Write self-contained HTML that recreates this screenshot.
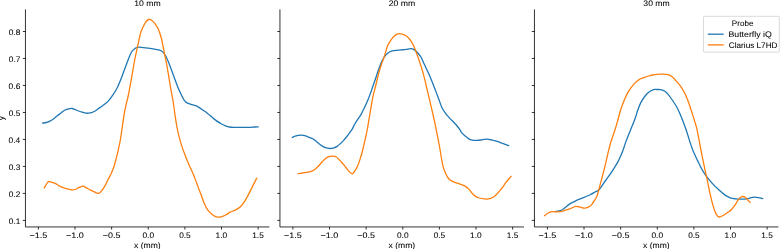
<!DOCTYPE html>
<html><head><meta charset="utf-8"><style>
html,body{margin:0;padding:0;background:#fff;}
body{width:780px;height:249px;overflow:hidden;}
svg{display:block;will-change:transform;}
text{font-family:"Liberation Sans",sans-serif;font-size:8.05px;stroke:#000;stroke-width:0.06px;text-rendering:geometricPrecision;}
</style></head><body>
<svg width="780" height="249" viewBox="0 0 780 249">
<clipPath id="c0"><rect x="25.45" y="9.4" width="244.0" height="217.54999999999998"/></clipPath>
<g clip-path="url(#c0)" fill="none" stroke-width="1.3" stroke-linejoin="round" stroke-linecap="square">
<path d="M42.60,123.10 C43.23,123.00 45.17,122.83 46.40,122.50 C47.63,122.17 48.78,121.73 50.00,121.10 C51.22,120.47 52.48,119.58 53.70,118.70 C54.92,117.82 56.10,116.73 57.30,115.80 C58.50,114.87 59.80,113.95 60.90,113.10 C62.00,112.25 62.90,111.32 63.90,110.70 C64.90,110.08 65.90,109.75 66.90,109.40 C67.90,109.05 69.00,108.75 69.90,108.60 C70.80,108.45 71.50,108.37 72.30,108.50 C73.10,108.63 73.68,108.98 74.70,109.40 C75.72,109.82 77.18,110.53 78.40,111.00 C79.62,111.47 80.80,111.85 82.00,112.20 C83.20,112.55 84.50,112.93 85.60,113.10 C86.70,113.27 87.60,113.27 88.60,113.20 C89.60,113.13 90.60,113.02 91.60,112.70 C92.60,112.38 93.50,111.95 94.60,111.30 C95.70,110.65 96.98,109.65 98.20,108.80 C99.42,107.95 100.68,107.10 101.90,106.20 C103.12,105.30 104.30,104.40 105.50,103.40 C106.70,102.40 107.78,101.73 109.10,100.20 C110.42,98.67 112.08,96.20 113.40,94.20 C114.72,92.20 115.78,90.60 117.00,88.20 C118.22,85.80 119.48,82.82 120.70,79.80 C121.92,76.78 123.10,73.32 124.30,70.10 C125.50,66.88 126.70,63.52 127.90,60.50 C129.10,57.48 130.30,54.02 131.50,52.00 C132.70,49.98 133.90,49.20 135.10,48.40 C136.30,47.60 137.28,47.32 138.70,47.20 C140.12,47.08 141.72,47.50 143.60,47.70 C145.48,47.90 148.00,48.13 150.00,48.40 C152.00,48.67 153.73,48.92 155.60,49.30 C157.47,49.68 159.55,49.67 161.20,50.70 C162.85,51.73 164.08,53.07 165.50,55.50 C166.92,57.93 168.30,61.80 169.70,65.30 C171.10,68.80 172.50,72.75 173.90,76.50 C175.30,80.25 176.68,84.38 178.10,87.80 C179.52,91.22 181.33,94.87 182.40,97.00 C183.47,99.13 183.72,99.62 184.50,100.60 C185.28,101.58 186.03,102.27 187.10,102.90 C188.17,103.53 189.52,103.93 190.90,104.40 C192.28,104.87 194.00,105.17 195.40,105.70 C196.80,106.23 198.02,106.85 199.30,107.60 C200.58,108.35 201.72,109.23 203.10,110.20 C204.48,111.17 206.10,112.22 207.60,113.40 C209.10,114.58 210.60,116.05 212.10,117.30 C213.60,118.55 215.10,119.83 216.60,120.90 C218.10,121.97 219.60,122.87 221.10,123.70 C222.60,124.53 224.20,125.35 225.60,125.90 C227.00,126.45 228.10,126.77 229.50,127.00 C230.90,127.23 231.97,127.25 234.00,127.30 C236.03,127.35 239.13,127.30 241.70,127.30 C244.27,127.30 247.25,127.35 249.40,127.30 C251.55,127.25 253.15,127.07 254.60,127.00 C256.05,126.93 257.52,126.92 258.10,126.90" stroke="#1f77b4"/>
<path d="M44.20,187.90 C44.55,187.33 45.60,185.55 46.30,184.50 C47.00,183.45 47.53,182.00 48.40,181.60 C49.27,181.20 50.28,181.75 51.50,182.10 C52.72,182.45 54.32,183.03 55.70,183.70 C57.08,184.37 58.42,185.40 59.80,186.10 C61.18,186.80 62.60,187.38 64.00,187.90 C65.40,188.42 66.88,188.88 68.20,189.20 C69.52,189.52 70.77,189.75 71.90,189.80 C73.03,189.85 73.88,189.85 75.00,189.50 C76.12,189.15 77.38,188.27 78.60,187.70 C79.82,187.13 81.42,186.32 82.30,186.10 C83.18,185.88 82.95,185.97 83.90,186.40 C84.85,186.83 86.62,187.97 88.00,188.70 C89.38,189.43 90.88,190.15 92.20,190.80 C93.52,191.45 94.85,192.17 95.90,192.60 C96.95,193.03 97.55,193.70 98.50,193.40 C99.45,193.10 100.55,192.02 101.60,190.80 C102.65,189.58 103.75,187.93 104.80,186.10 C105.85,184.27 106.83,181.90 107.90,179.80 C108.97,177.70 110.18,175.72 111.20,173.50 C112.22,171.28 113.12,169.20 114.00,166.50 C114.88,163.80 115.70,160.43 116.50,157.30 C117.30,154.17 118.10,150.92 118.80,147.70 C119.50,144.48 120.19,140.95 120.70,138.00 C121.21,135.05 121.52,132.33 121.85,130.00 C122.18,127.67 122.33,126.62 122.70,124.00 C123.08,121.38 123.53,117.53 124.10,114.30 C124.67,111.07 125.38,107.82 126.10,104.60 C126.82,101.38 127.47,99.62 128.40,95.00 C129.33,90.38 130.65,82.73 131.70,76.90 C132.75,71.07 133.77,64.90 134.70,60.00 C135.63,55.10 136.68,50.33 137.30,47.50 C137.92,44.67 137.87,45.37 138.40,43.00 C138.93,40.63 139.75,35.92 140.50,33.30 C141.25,30.68 142.00,29.22 142.90,27.30 C143.80,25.38 144.93,23.10 145.90,21.80 C146.87,20.50 147.75,19.77 148.70,19.50 C149.65,19.23 150.57,19.52 151.60,20.20 C152.63,20.88 153.73,22.02 154.90,23.60 C156.07,25.18 157.52,27.22 158.60,29.70 C159.68,32.18 160.63,35.62 161.40,38.50 C162.17,41.38 162.57,43.92 163.20,47.00 C163.83,50.08 164.60,54.00 165.20,57.00 C165.80,60.00 166.28,62.22 166.80,65.00 C167.32,67.78 167.58,69.43 168.30,73.70 C169.02,77.97 170.28,85.88 171.10,90.60 C171.92,95.32 172.57,98.10 173.20,102.00 C173.83,105.90 174.33,110.17 174.90,114.00 C175.47,117.83 175.97,121.48 176.60,125.00 C177.23,128.52 177.88,131.75 178.70,135.10 C179.52,138.45 180.43,141.75 181.50,145.10 C182.57,148.45 183.80,151.80 185.10,155.20 C186.40,158.60 187.92,162.28 189.30,165.50 C190.68,168.72 192.12,171.40 193.40,174.50 C194.68,177.60 195.78,180.90 197.00,184.10 C198.22,187.30 199.48,190.48 200.70,193.70 C201.92,196.92 203.10,200.67 204.30,203.40 C205.50,206.13 206.50,208.18 207.90,210.10 C209.30,212.02 211.10,213.73 212.70,214.90 C214.30,216.07 215.95,216.82 217.50,217.10 C219.05,217.38 220.57,216.98 222.00,216.60 C223.43,216.22 224.75,215.53 226.10,214.80 C227.45,214.07 228.60,212.97 230.10,212.20 C231.60,211.43 233.43,211.05 235.10,210.20 C236.77,209.35 238.60,208.45 240.10,207.10 C241.60,205.75 242.75,204.10 244.10,202.10 C245.45,200.10 246.85,197.60 248.20,195.10 C249.55,192.60 250.80,189.88 252.20,187.10 C253.60,184.32 255.87,179.85 256.60,178.40" stroke="#ff7f0e"/>
</g>
<g stroke="#000" stroke-width="0.8" fill="none" stroke-linecap="butt">
<path d="M25.45,9.4 V226.95 H269.45"/>
<path d="M22.81,220.40 H25.45"/>
<path d="M22.81,193.41 H25.45"/>
<path d="M22.81,166.43 H25.45"/>
<path d="M22.81,139.44 H25.45"/>
<path d="M22.81,112.46 H25.45"/>
<path d="M22.81,85.47 H25.45"/>
<path d="M22.81,58.48 H25.45"/>
<path d="M22.81,31.50 H25.45"/>
<path d="M38.40,226.95 V229.59"/>
<path d="M75.03,226.95 V229.59"/>
<path d="M111.65,226.95 V229.59"/>
<path d="M148.28,226.95 V229.59"/>
<path d="M184.90,226.95 V229.59"/>
<path d="M221.53,226.95 V229.59"/>
<path d="M258.15,226.95 V229.59"/>
</g>
<text transform="translate(29.52,237.80) scale(1.1133,1)" fill="#000">−1.5</text>
<text transform="translate(66.06,237.80) scale(1.1220,1)" fill="#000">−1.0</text>
<text transform="translate(102.77,237.80) scale(1.1133,1)" fill="#000">−0.5</text>
<text transform="translate(142.44,237.80) scale(1.0423,1)" fill="#000">0.0</text>
<text transform="translate(179.15,237.80) scale(1.0295,1)" fill="#000">0.5</text>
<text transform="translate(215.55,237.80) scale(1.0403,1)" fill="#000">1.0</text>
<text transform="translate(252.26,237.80) scale(1.0272,1)" fill="#000">1.5</text>
<text transform="translate(8.81,223.60) scale(1.0314,1)" fill="#000">0.1</text>
<text transform="translate(8.87,196.61) scale(1.0270,1)" fill="#000">0.2</text>
<text transform="translate(8.72,169.63) scale(1.0363,1)" fill="#000">0.3</text>
<text transform="translate(8.54,142.64) scale(1.0418,1)" fill="#000">0.4</text>
<text transform="translate(8.78,115.66) scale(1.0295,1)" fill="#000">0.5</text>
<text transform="translate(8.59,88.67) scale(1.0486,1)" fill="#000">0.6</text>
<text transform="translate(8.76,61.68) scale(1.0375,1)" fill="#000">0.7</text>
<text transform="translate(8.63,34.70) scale(1.0444,1)" fill="#000">0.8</text>
<text transform="translate(3.90,118.17) rotate(-90) translate(-2.03,0) scale(1.0072,1)" fill="#000">y</text>
<text transform="translate(134.05,248.20) scale(1.0636,1)" fill="#000">x (mm)</text>
<text transform="translate(134.17,5.80) scale(1.0762,1)" fill="#000">10 mm</text>
<clipPath id="c1"><rect x="279.95" y="9.4" width="244.0" height="217.54999999999998"/></clipPath>
<g clip-path="url(#c1)" fill="none" stroke-width="1.3" stroke-linejoin="round" stroke-linecap="square">
<path d="M292.40,137.30 C292.88,137.12 294.30,136.52 295.30,136.20 C296.30,135.88 297.35,135.57 298.40,135.40 C299.45,135.23 300.55,135.17 301.60,135.20 C302.65,135.23 303.67,135.33 304.70,135.60 C305.73,135.87 306.75,136.38 307.80,136.80 C308.85,137.22 309.95,137.63 311.00,138.10 C312.05,138.57 313.07,138.92 314.10,139.60 C315.13,140.28 316.15,141.33 317.20,142.20 C318.25,143.07 319.35,144.02 320.40,144.80 C321.45,145.58 322.47,146.38 323.50,146.90 C324.53,147.42 325.47,147.63 326.60,147.90 C327.73,148.17 329.07,148.50 330.30,148.50 C331.53,148.50 332.87,148.25 334.00,147.90 C335.13,147.55 336.07,147.08 337.10,146.40 C338.13,145.72 339.15,144.77 340.20,143.80 C341.25,142.83 342.35,141.73 343.40,140.60 C344.45,139.47 345.47,138.30 346.50,137.00 C347.53,135.70 348.65,134.12 349.60,132.80 C350.55,131.48 351.23,130.73 352.20,129.10 C353.17,127.47 353.97,125.38 355.40,123.00 C356.83,120.62 359.28,117.37 360.80,114.80 C362.32,112.23 363.28,110.15 364.50,107.60 C365.72,105.05 367.05,102.07 368.10,99.50 C369.15,96.93 370.12,94.08 370.80,92.20 C371.48,90.32 371.40,90.48 372.20,88.20 C373.00,85.92 374.57,81.53 375.60,78.50 C376.63,75.47 377.33,72.90 378.40,70.00 C379.47,67.10 380.78,63.58 382.00,61.10 C383.22,58.62 384.38,56.67 385.70,55.10 C387.02,53.53 388.50,52.45 389.90,51.70 C391.30,50.95 392.20,50.90 394.10,50.60 C396.00,50.30 399.30,50.10 401.30,49.90 C403.30,49.70 404.48,49.60 406.10,49.40 C407.72,49.20 409.68,48.67 411.00,48.70 C412.32,48.73 412.90,48.93 414.00,49.60 C415.10,50.27 416.40,51.38 417.60,52.70 C418.80,54.02 420.10,55.60 421.20,57.50 C422.30,59.40 422.88,61.25 424.20,64.10 C425.52,66.95 427.62,71.23 429.10,74.60 C430.58,77.97 431.77,80.95 433.10,84.30 C434.43,87.65 436.10,92.08 437.10,94.70 C438.10,97.32 438.27,97.78 439.10,100.00 C439.93,102.22 440.93,105.65 442.10,108.00 C443.27,110.35 444.83,112.42 446.10,114.10 C447.37,115.78 448.03,116.32 449.70,118.10 C451.37,119.88 454.37,122.82 456.10,124.80 C457.83,126.78 459.18,128.70 460.10,130.00 C461.02,131.30 460.82,131.65 461.60,132.60 C462.38,133.55 463.67,134.70 464.80,135.70 C465.93,136.70 467.18,137.87 468.40,138.60 C469.62,139.33 470.70,139.80 472.10,140.10 C473.50,140.40 475.32,140.42 476.80,140.40 C478.28,140.38 479.78,140.17 481.00,140.00 C482.22,139.83 483.07,139.53 484.10,139.40 C485.13,139.27 485.98,139.12 487.20,139.20 C488.42,139.28 490.00,139.63 491.40,139.90 C492.80,140.17 494.20,140.40 495.60,140.80 C497.00,141.20 498.42,141.78 499.80,142.30 C501.18,142.82 502.43,143.33 503.90,143.90 C505.37,144.47 507.82,145.40 508.60,145.70" stroke="#1f77b4"/>
<path d="M298.10,173.60 C298.75,173.52 300.60,173.32 302.00,173.10 C303.40,172.88 305.10,172.53 306.50,172.30 C307.90,172.07 309.08,172.13 310.40,171.70 C311.72,171.27 313.08,170.60 314.40,169.70 C315.72,168.80 317.00,167.62 318.30,166.30 C319.60,164.98 320.98,163.12 322.20,161.80 C323.42,160.48 324.47,159.25 325.60,158.40 C326.73,157.55 327.78,157.07 329.00,156.70 C330.22,156.33 331.68,156.15 332.90,156.20 C334.12,156.25 335.27,156.43 336.30,157.00 C337.33,157.57 338.07,158.55 339.10,159.60 C340.13,160.65 341.37,162.00 342.50,163.30 C343.63,164.60 344.78,166.02 345.90,167.40 C347.02,168.78 348.12,170.53 349.20,171.60 C350.28,172.67 351.45,173.93 352.40,173.80 C353.35,173.67 354.02,172.15 354.90,170.80 C355.78,169.45 356.77,167.85 357.70,165.70 C358.63,163.55 359.67,160.52 360.50,157.90 C361.33,155.28 361.95,152.98 362.70,150.00 C363.45,147.02 364.25,143.33 365.00,140.00 C365.75,136.67 366.53,133.43 367.20,130.00 C367.87,126.57 368.40,122.98 369.00,119.40 C369.60,115.82 370.12,112.43 370.80,108.50 C371.48,104.57 372.32,99.47 373.10,95.80 C373.88,92.13 374.72,89.63 375.50,86.50 C376.28,83.37 377.12,79.75 377.80,77.00 C378.48,74.25 378.90,72.35 379.60,70.00 C380.30,67.65 381.18,65.28 382.00,62.90 C382.82,60.52 383.58,58.52 384.50,55.70 C385.42,52.88 386.65,48.25 387.50,46.00 C388.35,43.75 388.95,43.32 389.60,42.20 C390.25,41.08 390.57,40.38 391.40,39.30 C392.23,38.22 393.65,36.57 394.60,35.70 C395.55,34.83 396.25,34.45 397.10,34.10 C397.95,33.75 398.83,33.60 399.70,33.60 C400.57,33.60 401.43,33.85 402.30,34.10 C403.17,34.35 404.05,34.67 404.90,35.10 C405.75,35.53 406.52,35.88 407.40,36.70 C408.28,37.52 409.33,38.82 410.20,40.00 C411.07,41.18 411.97,42.70 412.60,43.80 C413.23,44.90 413.27,44.82 414.00,46.60 C414.73,48.38 415.92,51.52 417.00,54.50 C418.08,57.48 419.42,61.15 420.50,64.50 C421.58,67.85 422.60,71.30 423.50,74.60 C424.40,77.90 425.10,80.95 425.90,84.30 C426.70,87.65 427.68,92.08 428.30,94.70 C428.92,97.32 428.92,97.12 429.60,100.00 C430.28,102.88 431.48,107.98 432.40,112.00 C433.32,116.02 434.22,119.92 435.10,124.10 C435.98,128.28 436.87,132.78 437.70,137.10 C438.53,141.42 439.47,146.43 440.10,150.00 C440.73,153.57 441.02,155.82 441.50,158.50 C441.98,161.18 442.42,163.83 443.00,166.10 C443.58,168.37 444.23,170.27 445.00,172.10 C445.77,173.93 446.75,175.77 447.60,177.10 C448.45,178.43 449.02,179.27 450.10,180.10 C451.18,180.93 452.43,181.43 454.10,182.10 C455.77,182.77 458.27,183.43 460.10,184.10 C461.93,184.77 463.65,185.27 465.10,186.10 C466.55,186.93 467.72,188.02 468.80,189.10 C469.88,190.18 470.55,191.43 471.60,192.60 C472.65,193.77 473.80,195.20 475.10,196.10 C476.40,197.00 477.87,197.53 479.40,198.00 C480.93,198.47 482.78,198.75 484.30,198.90 C485.82,199.05 487.10,199.13 488.50,198.90 C489.90,198.67 491.42,198.20 492.70,197.50 C493.98,196.80 494.90,195.98 496.20,194.70 C497.50,193.42 499.08,191.55 500.50,189.80 C501.92,188.05 503.42,185.92 504.70,184.20 C505.98,182.48 507.15,180.80 508.20,179.50 C509.25,178.20 510.53,176.92 511.00,176.40" stroke="#ff7f0e"/>
</g>
<g stroke="#000" stroke-width="0.8" fill="none" stroke-linecap="butt">
<path d="M279.95,9.4 V226.95 H523.95"/>
<path d="M277.31,220.40 H279.95"/>
<path d="M277.31,193.41 H279.95"/>
<path d="M277.31,166.43 H279.95"/>
<path d="M277.31,139.44 H279.95"/>
<path d="M277.31,112.46 H279.95"/>
<path d="M277.31,85.47 H279.95"/>
<path d="M277.31,58.48 H279.95"/>
<path d="M277.31,31.50 H279.95"/>
<path d="M292.90,226.95 V229.59"/>
<path d="M329.52,226.95 V229.59"/>
<path d="M366.15,226.95 V229.59"/>
<path d="M402.77,226.95 V229.59"/>
<path d="M439.40,226.95 V229.59"/>
<path d="M476.02,226.95 V229.59"/>
<path d="M512.65,226.95 V229.59"/>
</g>
<text transform="translate(284.02,237.80) scale(1.1133,1)" fill="#000">−1.5</text>
<text transform="translate(320.56,237.80) scale(1.1220,1)" fill="#000">−1.0</text>
<text transform="translate(357.27,237.80) scale(1.1133,1)" fill="#000">−0.5</text>
<text transform="translate(396.94,237.80) scale(1.0423,1)" fill="#000">0.0</text>
<text transform="translate(433.65,237.80) scale(1.0295,1)" fill="#000">0.5</text>
<text transform="translate(470.05,237.80) scale(1.0403,1)" fill="#000">1.0</text>
<text transform="translate(506.76,237.80) scale(1.0272,1)" fill="#000">1.5</text>
<text transform="translate(388.55,248.20) scale(1.0636,1)" fill="#000">x (mm)</text>
<text transform="translate(388.75,5.80) scale(1.0784,1)" fill="#000">20 mm</text>
<clipPath id="c2"><rect x="534.45" y="9.4" width="244.0" height="217.54999999999998"/></clipPath>
<g clip-path="url(#c2)" fill="none" stroke-width="1.3" stroke-linejoin="round" stroke-linecap="square">
<path d="M555.90,211.40 C556.43,211.30 558.00,211.08 559.10,210.80 C560.20,210.52 561.37,210.35 562.50,209.70 C563.63,209.05 564.78,207.78 565.90,206.90 C567.02,206.02 568.08,205.15 569.20,204.40 C570.32,203.65 571.28,203.12 572.60,202.40 C573.92,201.68 575.60,200.77 577.10,200.10 C578.60,199.43 580.10,199.00 581.60,198.40 C583.10,197.80 584.60,197.15 586.10,196.50 C587.60,195.85 589.10,195.25 590.60,194.50 C592.10,193.75 593.72,192.78 595.10,192.00 C596.48,191.22 597.22,191.63 598.90,189.80 C600.58,187.97 603.12,183.92 605.20,181.00 C607.28,178.08 609.33,175.40 611.40,172.30 C613.47,169.20 616.13,164.95 617.60,162.40 C619.07,159.85 619.28,159.07 620.20,157.00 C621.12,154.93 622.18,152.48 623.10,150.00 C624.02,147.52 624.73,144.75 625.70,142.10 C626.67,139.45 627.83,136.77 628.90,134.10 C629.97,131.43 631.03,128.78 632.10,126.10 C633.17,123.42 634.35,120.68 635.30,118.00 C636.25,115.32 636.90,112.52 637.80,110.00 C638.70,107.48 639.55,105.15 640.70,102.90 C641.85,100.65 643.37,98.28 644.70,96.50 C646.03,94.72 647.22,93.35 648.70,92.20 C650.18,91.05 652.30,90.05 653.60,89.60 C654.90,89.15 655.30,89.48 656.50,89.50 C657.70,89.52 659.40,89.40 660.80,89.70 C662.20,90.00 663.55,90.37 664.90,91.30 C666.25,92.23 667.62,93.77 668.90,95.30 C670.18,96.83 671.32,98.58 672.60,100.50 C673.88,102.42 675.43,104.73 676.60,106.80 C677.77,108.87 678.55,110.55 679.60,112.90 C680.65,115.25 681.82,118.10 682.90,120.90 C683.98,123.70 685.18,127.02 686.10,129.70 C687.02,132.38 687.65,134.62 688.40,137.00 C689.15,139.38 689.73,141.48 690.60,144.00 C691.47,146.52 692.42,149.28 693.60,152.10 C694.78,154.92 696.35,158.10 697.70,160.90 C699.05,163.70 700.37,166.48 701.70,168.90 C703.03,171.32 703.90,172.95 705.70,175.40 C707.50,177.85 710.32,181.20 712.50,183.60 C714.68,186.00 716.70,187.88 718.80,189.80 C720.90,191.72 723.18,193.77 725.10,195.10 C727.02,196.43 728.57,197.18 730.30,197.80 C732.03,198.42 733.58,198.57 735.50,198.80 C737.42,199.03 739.72,199.23 741.80,199.20 C743.88,199.17 745.92,198.95 748.00,198.60 C750.08,198.25 751.87,197.10 754.30,197.10 C756.73,197.10 761.22,198.35 762.60,198.60" stroke="#1f77b4"/>
<path d="M544.70,215.60 C545.12,215.25 546.38,214.05 547.20,213.50 C548.02,212.95 548.83,212.62 549.60,212.30 C550.37,211.98 551.00,211.68 551.80,211.60 C552.60,211.52 553.53,211.75 554.40,211.80 C555.27,211.85 556.03,211.92 557.00,211.90 C557.97,211.88 559.10,211.87 560.20,211.70 C561.30,211.53 562.47,211.23 563.60,210.90 C564.73,210.57 565.87,210.08 567.00,209.70 C568.13,209.32 569.28,209.03 570.40,208.60 C571.52,208.17 572.77,207.48 573.70,207.10 C574.63,206.72 575.05,206.33 576.00,206.30 C576.95,206.27 578.18,206.62 579.40,206.90 C580.62,207.18 582.18,207.85 583.30,208.00 C584.42,208.15 585.17,207.98 586.10,207.80 C587.03,207.62 587.97,207.43 588.90,206.90 C589.83,206.37 590.85,205.55 591.70,204.60 C592.55,203.65 593.13,202.60 594.00,201.20 C594.87,199.80 596.13,197.98 596.90,196.20 C597.67,194.42 597.85,193.23 598.60,190.50 C599.35,187.77 600.38,183.65 601.40,179.80 C602.42,175.95 603.67,171.55 604.70,167.40 C605.73,163.25 606.60,159.05 607.60,154.90 C608.60,150.75 609.43,146.77 610.70,142.50 C611.97,138.23 613.92,133.38 615.20,129.30 C616.48,125.22 617.50,121.22 618.40,118.00 C619.30,114.78 619.70,112.78 620.60,110.00 C621.50,107.22 622.73,103.95 623.80,101.30 C624.87,98.65 625.78,96.37 627.00,94.10 C628.22,91.83 629.75,89.57 631.10,87.70 C632.45,85.83 633.77,84.25 635.10,82.90 C636.43,81.55 637.63,80.48 639.10,79.60 C640.57,78.72 642.30,78.20 643.90,77.60 C645.50,77.00 647.27,76.43 648.70,76.00 C650.13,75.57 651.15,75.28 652.50,75.00 C653.85,74.72 655.28,74.45 656.80,74.30 C658.32,74.15 659.72,74.03 661.60,74.10 C663.48,74.17 666.35,74.25 668.10,74.70 C669.85,75.15 670.77,75.77 672.10,76.80 C673.43,77.83 674.77,79.42 676.10,80.90 C677.43,82.38 678.90,84.10 680.10,85.70 C681.30,87.30 682.23,88.63 683.30,90.50 C684.37,92.37 685.38,94.23 686.50,96.90 C687.62,99.57 688.87,103.17 690.00,106.50 C691.13,109.83 692.22,113.43 693.30,116.90 C694.38,120.37 695.67,124.12 696.50,127.30 C697.33,130.48 697.70,132.95 698.30,136.00 C698.90,139.05 699.48,142.38 700.10,145.60 C700.72,148.82 701.33,151.95 702.00,155.30 C702.67,158.65 703.50,162.83 704.10,165.70 C704.70,168.57 705.07,170.05 705.60,172.50 C706.13,174.95 706.50,176.63 707.30,180.40 C708.10,184.17 709.35,190.57 710.40,195.10 C711.45,199.63 712.62,204.40 713.60,207.60 C714.58,210.80 715.37,212.73 716.30,214.30 C717.23,215.87 718.08,216.80 719.20,217.00 C720.32,217.20 721.68,216.20 723.00,215.50 C724.32,214.80 725.72,213.77 727.10,212.80 C728.48,211.83 729.90,211.10 731.30,209.70 C732.70,208.30 734.28,206.15 735.50,204.40 C736.72,202.65 737.55,200.48 738.60,199.20 C739.65,197.92 740.75,197.05 741.80,196.70 C742.85,196.35 743.93,196.57 744.90,197.10 C745.87,197.63 746.73,199.02 747.60,199.90 C748.47,200.78 749.68,201.98 750.10,202.40" stroke="#ff7f0e"/>
</g>
<g stroke="#000" stroke-width="0.8" fill="none" stroke-linecap="butt">
<path d="M534.45,9.4 V226.95 H778.45"/>
<path d="M531.81,220.40 H534.45"/>
<path d="M531.81,193.41 H534.45"/>
<path d="M531.81,166.43 H534.45"/>
<path d="M531.81,139.44 H534.45"/>
<path d="M531.81,112.46 H534.45"/>
<path d="M531.81,85.47 H534.45"/>
<path d="M531.81,58.48 H534.45"/>
<path d="M531.81,31.50 H534.45"/>
<path d="M547.40,226.95 V229.59"/>
<path d="M584.03,226.95 V229.59"/>
<path d="M620.65,226.95 V229.59"/>
<path d="M657.28,226.95 V229.59"/>
<path d="M693.90,226.95 V229.59"/>
<path d="M730.53,226.95 V229.59"/>
<path d="M767.15,226.95 V229.59"/>
</g>
<text transform="translate(538.52,237.80) scale(1.1133,1)" fill="#000">−1.5</text>
<text transform="translate(575.06,237.80) scale(1.1220,1)" fill="#000">−1.0</text>
<text transform="translate(611.77,237.80) scale(1.1133,1)" fill="#000">−0.5</text>
<text transform="translate(651.44,237.80) scale(1.0423,1)" fill="#000">0.0</text>
<text transform="translate(688.15,237.80) scale(1.0295,1)" fill="#000">0.5</text>
<text transform="translate(724.55,237.80) scale(1.0403,1)" fill="#000">1.0</text>
<text transform="translate(761.26,237.80) scale(1.0272,1)" fill="#000">1.5</text>
<text transform="translate(643.05,248.20) scale(1.0636,1)" fill="#000">x (mm)</text>
<text transform="translate(643.37,5.80) scale(1.0730,1)" fill="#000">30 mm</text>
<rect x="703.45" y="16.3" width="75.85" height="35.80" rx="1.1" fill="#fff" fill-opacity="0.8" stroke="#ccc" stroke-width="0.75"/>
<text transform="translate(731.80,25.80) scale(1.0053,1)" fill="#000">Probe</text>
<path d="M707.8,34.2 H723.7" stroke="#1f77b4" stroke-width="1.3"/>
<path d="M707.8,44.9 H723.7" stroke="#ff7f0e" stroke-width="1.3"/>
<text transform="translate(728.48,37.10) scale(1.0868,1)" fill="#000">Butterfly iQ</text>
<text transform="translate(728.78,47.70) scale(1.0186,1)" fill="#000">Clarius L7HD</text>
</svg>
</body></html>
